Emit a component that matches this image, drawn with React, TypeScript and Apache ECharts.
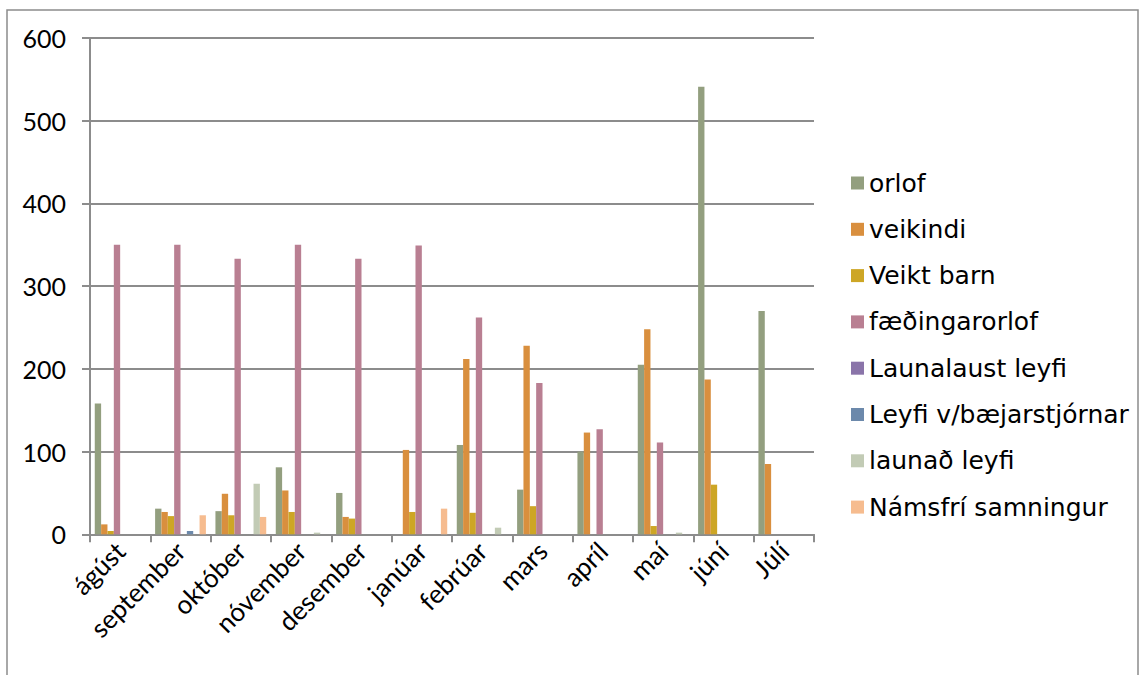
import React, { useEffect, useRef } from "react";
import * as echarts from "echarts";

const months = ["ágúst", "september", "október", "nóvember", "desember", "janúar", "febrúar", "mars", "apríl", "maí", "júní", "Júlí"];
const yTicks = [0, 100, 200, 300, 400, 500, 600];

const orlof = [158, 31, 28, 81, 50, 0, 108, 54, 100, 205, 541, 270];
const veikindi = [12, 27, 49, 53, 21, 102, 212, 228, 123, 248, 187, 85];
const veiktBarn = [4, 22, 23, 27, 19, 27, 26, 34, 0, 10, 60, 0];
const faedingarorlof = [350, 350, 333, 350, 333, 349, 262, 183, 127, 111, 0, 0];
const launalaust = [0, 0, 0, 0, 0, 0, 0, 0, 0, 0, 0, 0];
const leyfiBaej = [0, 4, 0, 0, 0, 0, 0, 0, 0, 0, 0, 0];
const launad = [0, 0, 61, 2, 0, 0, 8, 0, 0, 2, 0, 0];
const namsfri = [0, 23, 21, 0, 0, 31, 0, 0, 0, 0, 0, 0];

const seriesNames = ["orlof", "veikindi", "Veikt barn", "fæðingarorlof", "Launalaust leyfi", "Leyfi v/bæjarstjórnar", "launað leyfi", "Námsfrí samningur"];
const seriesData = [orlof, veikindi, veiktBarn, faedingarorlof, launalaust, leyfiBaej, launad, namsfri];
const colors = ["#939f7f", "#d98f3e", "#cda625", "#b97f92", "#8a74a9", "#6c89ab", "#c2cbb5", "#f6bc8f"];

export default function App() {
  const ref = useRef<HTMLDivElement>(null);
  useEffect(() => {
    if (!ref.current) return;
    const chart = echarts.init(ref.current, null, { renderer: "svg" });
    const axisColor = "#8c8c8c";
    chart.setOption({
      animation: false,
      backgroundColor: "#ffffff",
      graphic: [
        {
          type: "rect",
          shape: { x: 7, y: 10, width: 1131, height: 680 },
          style: { fill: "none", stroke: "#8c8c8c", lineWidth: 1.5 },
          silent: true,
        },
      ],
      legend: {
        orient: "vertical",
        left: 851,
        top: 170.5,
        padding: 0,
        itemWidth: 13,
        itemHeight: 13,
        itemGap: 21.3,
        icon: "rect",
        textStyle: { fontFamily: "DejaVu Sans", fontSize: 25, lineHeight: 25, color: "#000" },
        data: seriesNames,
      },
      grid: { left: 90, right: 331, top: 38, bottom: 140.7, containLabel: false },
      xAxis: {
        type: "category",
        data: months,
        boundaryGap: true,
        axisLine: { lineStyle: { color: axisColor, width: 2 } },
        axisTick: { show: true, length: 8, lineStyle: { color: axisColor, width: 2 } },
        axisLabel: { rotate: 45, margin: 12, interval: 0, fontFamily: "Lato", fontSize: 26, color: "#000" },
      },
      yAxis: {
        type: "value",
        min: 0,
        max: 600,
        interval: 100,
        axisLine: { show: true, lineStyle: { color: axisColor, width: 2 } },
        axisTick: { show: true, length: 8, lineStyle: { color: axisColor, width: 2 } },
        axisLabel: {
          margin: 24,
          fontFamily: "Lato",
          fontSize: 25,
          color: "#000",
          formatter: (v: number) => (yTicks.includes(v) ? String(v) : ""),
        },
        splitLine: { show: true, lineStyle: { color: axisColor, width: 2 } },
      },
      series: seriesNames.map((name, i) => ({
        name,
        type: "bar",
        data: seriesData[i],
        barGap: "0%",
        barCategoryGap: "15.8%",
        itemStyle: { color: colors[i] },
      })),
    });
    return () => chart.dispose();
  }, []);
  return <div ref={ref} style={{ position: "fixed", left: 0, top: 0, width: 1145, height: 675 }} />;
}
